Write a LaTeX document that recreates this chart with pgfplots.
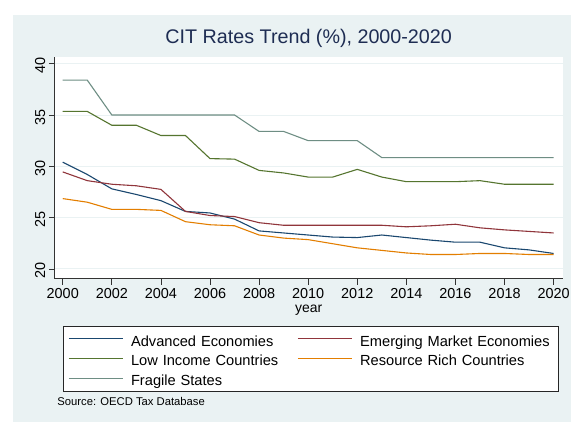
\documentclass[border=0pt]{standalone}
\usepackage{pgfplots}
\pgfplotsset{compat=1.18}
\usepackage{fontspec}
\setmainfont{Liberation Sans}
\definecolor{bgc}{RGB}{234,242,243}
\definecolor{gridc}{RGB}{234,242,243}
\definecolor{sNavy}{RGB}{26,71,111}
\definecolor{sMaroon}{RGB}{144,53,59}
\definecolor{sGreen}{RGB}{85,117,47}
\definecolor{sOrange}{RGB}{227,126,0}
\definecolor{sTeal}{RGB}{110,142,132}
\definecolor{titlec}{RGB}{30,45,83}
\begin{document}
\begin{tikzpicture}[x=1pt,y=1pt]
\fill[white] (0,0) rectangle (573,424);
\fill[bgc] (13,0) rectangle (573,409);
\begin{axis}[
  at={(55pt,144pt)}, anchor=south west,
  scale only axis, width=510pt, height=223pt,
  xmin=1999.675, xmax=2020.365, ymin=19.03, ymax=40.68,
  axis background/.style={fill=white},
  axis x line*=bottom, axis y line*=left,
  axis line style={-, draw=black!80, line width=0.7pt},
  tick style={draw=black!80, line width=0.7pt},
  major tick length=6pt, tick align=outside,
  xtick={2000,2002,...,2020}, ytick={20,25,30,35,40},
  /pgf/number format/1000 sep={},
  /pgf/number format/assume math mode=true,
  ticklabel style={font=\fontsize{14.5}{16}\selectfont},
  yticklabel style={rotate=90, anchor=south, xshift=-2pt},
  ymajorgrids, grid style={draw=gridc, line width=1pt},
  title={CIT Rates Trend (\%), 2000-2020},
  title style={at={(axis description cs:0.5,1)}, anchor=base, yshift=7pt, font=\fontsize{19.8}{22}\selectfont, text=titlec},
  xlabel={year},
  xlabel style={font=\fontsize{14}{15}\selectfont, inner sep=0pt, yshift=-3pt},
  legend columns=2,
  legend cell align=left,
  legend image code/.code={\draw[#1, line width=1.1pt] (0pt,0.5pt) -- (54pt,0.5pt);},
  legend style={at={(0.0157,-0.2108)}, anchor=north west,
    draw=black!85, line width=1pt, fill=white,
    inner xsep=5pt, inner ysep=3pt, column sep=8pt, row sep=0pt,
    font=\fontsize{14.7}{16}\selectfont,
    nodes={inner sep=0pt, text height=17pt, text depth=3pt, text width=159pt, align=left},
    /tikz/column 4/.style={nodes={text width=194pt}}},
  every axis plot/.append style={line width=1.1pt},
]
\addplot[sNavy] coordinates {(2000,30.4)(2001,29.2)(2002,27.8)(2003,27.25)(2004,26.65)(2005,25.6)(2006,25.45)(2007,24.85)(2008,23.7)(2009,23.5)(2010,23.3)(2011,23.1)(2012,23.05)(2013,23.3)(2014,23.05)(2015,22.8)(2016,22.6)(2017,22.6)(2018,22.05)(2019,21.85)(2020,21.5)};
\addlegendentry{Advanced Economies}
\addplot[sMaroon] coordinates {(2000,29.45)(2001,28.6)(2002,28.25)(2003,28.1)(2004,27.75)(2005,25.6)(2006,25.2)(2007,25.1)(2008,24.5)(2009,24.25)(2010,24.25)(2011,24.25)(2012,24.25)(2013,24.25)(2014,24.1)(2015,24.2)(2016,24.35)(2017,24.0)(2018,23.8)(2019,23.65)(2020,23.5)};
\addlegendentry{Emerging Market Economies}
\addplot[sGreen] coordinates {(2000,35.35)(2001,35.35)(2002,34.0)(2003,34.0)(2004,33.0)(2005,33.0)(2006,30.75)(2007,30.7)(2008,29.6)(2009,29.35)(2010,28.95)(2011,28.95)(2012,29.7)(2013,28.95)(2014,28.5)(2015,28.5)(2016,28.5)(2017,28.6)(2018,28.25)(2019,28.25)(2020,28.25)};
\addlegendentry{Low Income Countries}
\addplot[sOrange] coordinates {(2000,26.85)(2001,26.5)(2002,25.8)(2003,25.8)(2004,25.7)(2005,24.6)(2006,24.3)(2007,24.2)(2008,23.3)(2009,23.0)(2010,22.85)(2011,22.45)(2012,22.05)(2013,21.8)(2014,21.55)(2015,21.4)(2016,21.4)(2017,21.5)(2018,21.5)(2019,21.4)(2020,21.4)};
\addlegendentry{Resource Rich Countries}
\addplot[sTeal] coordinates {(2000,38.4)(2001,38.4)(2002,35.0)(2003,35.0)(2004,35.0)(2005,35.0)(2006,35.0)(2007,35.0)(2008,33.4)(2009,33.4)(2010,32.5)(2011,32.5)(2012,32.5)(2013,30.85)(2014,30.85)(2015,30.85)(2016,30.85)(2017,30.85)(2018,30.85)(2019,30.85)(2020,30.85)};
\addlegendentry{Fragile States}
\end{axis}
\node[anchor=west, inner sep=0pt, font=\fontsize{11.3}{13}\selectfont] at (57.5,21) {Source: OECD Tax Database};
\end{tikzpicture}
\end{document}
